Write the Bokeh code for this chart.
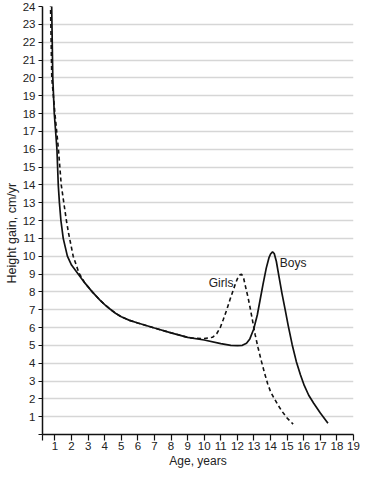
from bokeh.plotting import figure
from bokeh.models import Range1d, FixedTicker, ColumnDataSource, Title
from bokeh.core.properties import value
from bokeh.embed import file_html
from bokeh.resources import INLINE

# ---- data ----
boys_age = [0.80, 0.87, 0.96, 1.12, 1.20, 1.27, 1.36, 1.50, 1.75, 2.0, 2.4, 2.8, 3.25, 3.7, 4.0, 4.3, 4.65,
            5.0, 5.5, 6.0, 7.0, 8.0, 9.0, 10.0, 11.0, 11.6, 12.0, 12.3, 12.55, 12.75, 12.98, 13.2, 13.36,
            13.55, 13.74, 13.9, 14.0, 14.12, 14.22, 14.35, 14.5, 14.69, 14.88, 15.07, 15.3, 15.55, 15.8,
            16.03, 16.3, 16.6, 17.0, 17.46]
boys_gain = [24.2, 20.0, 18.0, 16.0, 14.0, 13.0, 12.0, 11.0, 10.0, 9.5, 9.0, 8.5, 8.0, 7.55, 7.28, 7.05, 6.8,
             6.6, 6.4, 6.25, 5.97, 5.7, 5.45, 5.3, 5.1, 5.0, 4.98, 5.0, 5.12, 5.36, 5.9, 6.7, 7.5,
             8.45, 9.33, 9.9, 10.12, 10.24, 10.15, 9.7, 8.9, 7.9, 7.0, 6.08, 5.05, 4.1, 3.35,
             2.75, 2.2, 1.75, 1.2, 0.63]

girls_age = [0.73, 0.81, 1.0, 1.21, 1.38, 1.55, 1.69, 1.82, 2.1, 2.45, 2.8, 3.25, 3.7, 4.0, 4.3, 4.65, 5.0,
             5.5, 6.0, 7.0, 8.0, 9.0, 9.35, 10.0, 10.5, 10.75, 10.97, 11.15, 11.36, 11.55, 11.74, 11.9,
             12.03, 12.15, 12.26, 12.38, 12.5, 12.65, 12.79, 12.93, 13.07, 13.25, 13.45, 13.65, 13.83,
             14.0, 14.22, 14.45, 14.69, 15.0, 15.36]
girls_gain = [24.2, 20.0, 18.0, 16.0, 14.0, 12.9, 12.0, 11.3, 10.0, 9.05, 8.5, 8.0, 7.55, 7.28, 7.05, 6.8, 6.6,
              6.4, 6.25, 5.97, 5.7, 5.45, 5.4, 5.38, 5.45, 5.65, 6.0, 6.45, 7.0, 7.55, 8.07, 8.5,
              8.8, 8.95, 8.98, 8.75, 8.25, 7.65, 7.0, 6.3, 5.6, 4.85, 4.1, 3.4, 2.83,
              2.4, 2.02, 1.65, 1.3, 0.92, 0.58]

x_ticks = list(range(1, 20))
y_ticks = list(range(0, 25))

labels_text = ["Girls", "Boys"]
labels_x = [11.76, 14.56]
labels_y = [8.5, 9.6]
labels_align = ["right", "left"]

x_title = "Age, years"
y_title = "Height gain, cm/yr"

FONT = "Liberation Sans"

p = figure(frame_width=311, frame_height=428, output_backend="svg", toolbar_location=None,
           x_range=Range1d(0.25, 19), y_range=Range1d(0, 24),
           min_border_left=42, min_border_right=7, min_border_top=6, min_border_bottom=36)
p.outline_line_color = None
p.background_fill_color = "white"
p.border_fill_color = "white"

p.xgrid.visible = False
p.ygrid.grid_line_color = "#d6d6d6"
p.ygrid.grid_line_width = 1.5

# axes
p.xaxis.ticker = FixedTicker(ticks=[0.25] + x_ticks)
p.xaxis.major_label_overrides = {0.25: ""}
p.yaxis.ticker = FixedTicker(ticks=y_ticks)
p.yaxis.major_label_overrides = {0: ""}

for ax in (p.xaxis[0], p.yaxis[0]):
    ax.axis_line_color = "#111111"
    ax.axis_line_width = 1.5
    ax.major_tick_line_color = "#111111"
    ax.major_tick_line_width = 1.2
    ax.major_tick_in = 0
    ax.minor_tick_line_color = None
    ax.major_label_text_font = FONT
    ax.major_label_text_font_size = "11.5px"
    ax.major_label_text_color = "#222222"
    ax.axis_label_text_font = FONT
    ax.axis_label_text_font_size = "12px"
    ax.axis_label_text_font_style = "normal"
    ax.axis_label_text_color = "#222222"

p.xaxis.major_tick_out = 6
p.xaxis.major_label_standoff = 1
p.xaxis.axis_label = x_title
p.xaxis.axis_label_standoff = 1
p.yaxis.major_tick_out = 4
p.yaxis.major_label_standoff = 3

# y-axis title sits below the frame centre in the reference: use an offset side title
ytitle = Title(text=y_title, align="left", offset=151, standoff=2,
               text_font=FONT, text_font_size="12.5px", text_font_style="normal",
               text_color="#222222")
p.add_layout(ytitle, "left")

p.line(girls_age, girls_gain, line_color="#111111", line_width=1.6, line_dash="4 3")
p.line(boys_age, boys_gain, line_color="#111111", line_width=1.7)

src = ColumnDataSource(dict(x=labels_x, y=labels_y, t=labels_text, a=labels_align))
p.text(x="x", y="y", text="t", text_align="a", text_baseline="middle", source=src,
       text_font=value(FONT), text_font_size="12px", text_color="#222222")

open("out.html", "w").write(file_html(p, INLINE))
